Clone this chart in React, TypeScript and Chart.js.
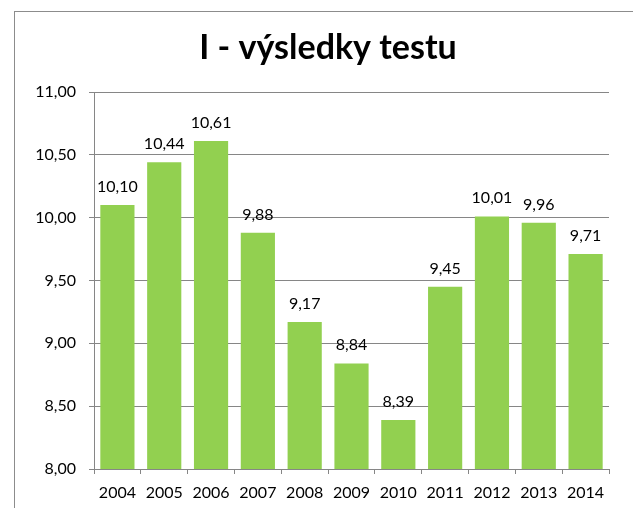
import React, { useEffect, useRef } from "react";
import { Chart, registerables } from "chart.js";

Chart.register(...registerables);

const categories = ["2004", "2005", "2006", "2007", "2008", "2009", "2010", "2011", "2012", "2013", "2014"];
const values = [10.1, 10.44, 10.61, 9.88, 9.17, 8.84, 8.39, 9.45, 10.01, 9.96, 9.71];
const titleText = "I - výsledky testu";
const yMin = 8;
const yMax = 11;
const yStep = 0.5;

const fmt = (v: number) => v.toFixed(2).replace(".", ",");
const FONT = "Lato, 'Open Sans', sans-serif";

const valueLabels = {
  id: "valueLabels",
  afterDatasetsDraw(chart: any) {
    const ctx = chart.ctx;
    const meta = chart.getDatasetMeta(0);
    ctx.save();
    ctx.font = `16px ${FONT}`;
    ctx.fillStyle = "#000";
    ctx.textAlign = "center";
    ctx.textBaseline = "alphabetic";
    meta.data.forEach((bar: any, i: number) => {
      ctx.fillText(fmt(values[i]), bar.x, bar.y - 13);
    });
    ctx.restore();
  },
};

// Title centred over the chart frame (frame starts at x=14), not the canvas
const frameTitle = {
  id: "frameTitle",
  afterDraw(chart: any) {
    const ctx = chart.ctx;
    ctx.save();
    ctx.font = `bold 34px ${FONT}`;
    ctx.fillStyle = "#000";
    ctx.textAlign = "center";
    ctx.textBaseline = "middle";
    ctx.fillText(titleText, 328, 48.5);
    ctx.restore();
  },
};

export default function App() {
  const ref = useRef<HTMLCanvasElement>(null);
  useEffect(() => {
    document.body.style.margin = "0";
    const chart = new Chart(ref.current!, {
      type: "bar",
      data: {
        labels: categories,
        datasets: [
          {
            data: values,
            backgroundColor: "#92D050",
            barPercentage: 0.73,
            categoryPercentage: 1,
          },
        ],
      },
      options: {
        animation: false,
        responsive: false,
        maintainAspectRatio: false,
        layout: { padding: { left: 0, right: 24, top: 92, bottom: 2 } },
        plugins: {
          legend: { display: false },
          tooltip: { enabled: false },
          title: { display: false },
        },
        scales: {
          x: {
            afterFit: (s: any) => {
              s.height = 37;
            },
            grid: {
              display: true,
              drawOnChartArea: false,
              drawTicks: true,
              tickLength: 5,
              color: "#868686",
            },
            border: { display: true, color: "#868686" },
            ticks: { color: "#000", font: { family: FONT, size: 16 }, padding: 9 },
          },
          y: {
            min: yMin,
            max: yMax,
            afterFit: (s: any) => {
              s.width = 94;
            },
            ticks: {
              stepSize: yStep,
              color: "#000",
              font: { family: FONT, size: 16 },
              padding: 13,
              callback: (v: any) => fmt(Number(v)),
            },
            grid: { color: "#868686", tickLength: 5 },
            border: { display: true, color: "#868686" },
          },
        },
      },
      plugins: [valueLabels, frameTitle],
    });
    return () => chart.destroy();
  }, []);
  return (
    <div style={{ position: "relative", width: 633, height: 508, background: "#fff", overflow: "hidden" }}>
      <div
        style={{
          position: "absolute",
          left: 14,
          top: 11,
          width: 640,
          height: 520,
          borderLeft: "1px solid #8c8c8c",
          borderTop: "1px solid #8c8c8c",
        }}
      />
      <canvas ref={ref} width={633} height={508} style={{ position: "absolute", left: 0, top: 0 }} />
    </div>
  );
}
